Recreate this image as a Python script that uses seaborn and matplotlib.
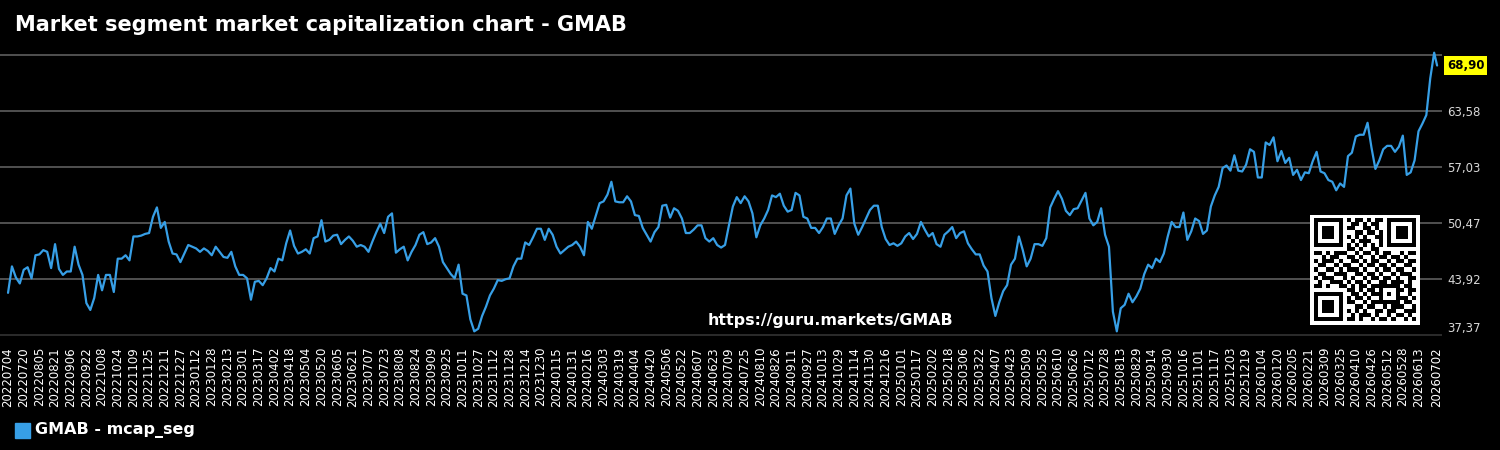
import matplotlib
matplotlib.use("Agg")
import matplotlib.pyplot as plt
import numpy as np
import pandas as pd
import seaborn as sns
from matplotlib.patches import Rectangle

# ---------------- data ----------------
title = "Market segment market capitalization chart - GMAB"
series_label = "GMAB - mcap_seg"
watermark = "https://guru.markets/GMAB"
start_date = "2022-07-04"
end_date = "2026-07-02"
sample_step_days = 4          # values read every 4 days, last value on end_date
tick_step_days = 16

mcap_values = [
    # 2022-07 .. 2022-12
    42.3, 45.4, 44.1, 43.4, 45.0, 45.3, 44.0, 46.7, 46.8, 47.3,
    47.1, 45.2, 48.0, 45.1, 44.4, 44.8, 44.8, 47.7, 45.6, 44.4,
    41.1, 40.3, 41.7, 44.4, 42.6, 44.4, 44.4, 42.4, 46.3, 46.3,
    46.7, 46.1, 48.9, 48.9, 49.0, 49.2, 49.3, 51.2, 52.3, 49.9,
    50.6, 48.3, 46.9, 46.8,
    # 2023
    45.9, 46.9, 47.9, 47.7, 47.5, 47.1, 47.5, 47.2, 46.7, 47.7,
    47.1, 46.5, 46.4, 47.1, 45.4, 44.4, 44.4, 44.0, 41.5, 43.6,
    43.7, 43.2, 44.0, 45.2, 44.8, 46.3, 46.1, 48.1, 49.6, 47.8,
    46.9, 47.1, 47.4, 46.9, 48.7, 48.9, 50.8, 48.3, 48.5, 49.0,
    49.1, 48.0, 48.5, 48.9, 48.4, 47.7,
    47.9, 47.7, 47.1, 48.3, 49.4, 50.4, 49.3, 51.2, 51.6, 47.0,
    47.4, 47.7, 46.1, 47.1, 47.9, 49.1, 49.4, 48.0, 48.2, 48.7,
    47.7, 45.9, 45.2, 44.5, 44.0, 45.6, 42.2, 42.0, 39.2, 37.8,
    38.1, 39.6, 40.7, 42.0, 42.8, 43.8, 43.7, 43.9, 44.0, 45.4,
    46.3, 46.3, 48.2, 47.9, 48.8, 49.8,
    # 2024
    49.8, 48.5, 49.8, 49.1, 47.7, 46.9, 47.3, 47.7, 47.9, 48.3,
    47.7, 46.7, 50.6, 49.8, 51.3, 52.8, 53.0, 53.8, 55.3, 53.0,
    52.9, 52.9, 53.6, 53.0, 51.4, 51.3, 49.9, 49.1, 48.3, 49.4,
    50.0, 52.5, 52.6, 51.1, 52.2, 51.9, 51.0, 49.3, 49.3, 49.7,
    50.2, 50.2, 48.7, 48.3, 48.7, 47.9,
    47.6, 47.9, 50.2, 52.4, 53.5, 52.8, 53.6, 53.0, 51.6, 48.8,
    50.2, 51.0, 52.0, 53.7, 53.5, 53.9, 52.5, 51.8, 52.0, 54.0,
    53.7, 51.2, 51.0, 49.9, 49.9, 49.3, 50.0, 51.0, 51.0, 49.2,
    50.2, 51.0, 53.7, 54.5, 50.4, 49.1, 50.0, 51.0, 52.0, 52.5,
    52.5, 50.0, 48.6, 47.9, 48.1, 47.8,
    # 2025
    48.1, 48.9, 49.3, 48.6, 49.2, 50.6, 49.7, 48.9, 49.3, 48.0,
    47.7, 49.1, 49.5, 50.0, 48.7, 49.3, 49.5, 48.1, 47.4, 46.8,
    46.8, 45.5, 44.8, 41.7, 39.6, 41.2, 42.5, 43.2, 45.6, 46.3,
    48.9, 47.3, 45.4, 46.3, 48.0, 48.0, 47.8, 48.7, 52.3, 53.3,
    54.2, 53.3, 51.9, 51.4, 52.1, 52.2,
    53.1, 54.0, 51.0, 50.2, 50.6, 52.2, 49.1, 47.7, 40.1, 37.8,
    40.5, 40.9, 42.2, 41.2, 41.9, 42.8, 44.5, 45.6, 45.2, 46.3,
    45.9, 46.9, 48.9, 50.6, 50.0, 50.0, 51.7, 48.5, 49.5, 51.0,
    50.7, 49.2, 49.6, 52.4, 53.7, 54.7, 56.9, 57.2, 56.6, 58.4,
    56.6, 56.5, 57.3, 59.1, 58.8, 55.8,
    # 2026
    55.8, 59.9, 59.6, 60.5, 57.7, 58.9, 57.5, 58.1, 56.1, 56.7,
    55.5, 56.4, 56.3, 57.7, 58.8, 56.5, 56.3, 55.5, 55.3, 54.3,
    55.1, 54.7, 58.3, 58.7, 60.6, 60.8, 60.8, 62.2, 59.3, 56.8,
    57.8, 59.1, 59.5, 59.5, 58.8, 59.4, 60.7, 56.1, 56.4, 57.8,
    61.2, 62.1, 63.1, 67.4, 70.4,
    68.90,
]
last_value_label = "68,90"
y_ticks = [37.37, 43.92, 50.47, 57.03, 63.58, 70.13]
y_tick_labels = ["37,37", "43,92", "50,47", "57,03", "63,58", ""]

qr_rows = [
    "1111111" + "0" + "101101011" + "0" + "1111111",
    "1000001" + "0" + "011010110" + "0" + "1000001",
    "1011101" + "0" + "110011010" + "0" + "1011101",
    "1011101" + "0" + "001101101" + "0" + "1011101",
    "1011101" + "0" + "101010011" + "0" + "1011101",
    "1000001" + "0" + "010111001" + "0" + "1000001",
    "1111111" + "0" + "101010101" + "0" + "1111111",
    "00000000" + "110100110" + "00000000",
    "1101011100101101011001011",
    "0010110011010010110110100",
    "1011101001101011001011011",
    "0110010110010110110100110",
    "1001101011101001011011001",
    "0110011100110110100101110",
    "1011100101001011011010011",
    "0100111010110100110111010",
    "1101001101011011" + "11111" + "0110",
    "00000000" + "11010110" + "10001" + "1011",
    "1111111" + "0" + "01101011" + "10101" + "0010",
    "1000001" + "0" + "10110100" + "10001" + "1101",
    "1011101" + "0" + "11001011" + "11111" + "0110",
    "1011101" + "0" + "00110110" + "01011" + "1001",
    "1011101" + "0" + "10101001" + "10110" + "0111",
    "1000001" + "0" + "01011101" + "00101" + "1010",
    "1111111" + "0" + "11010010" + "11010" + "0101",
]

# ---------------- style ----------------
line_color = "#379fe6"
sns.set_style("dark", rc={
    "axes.facecolor": "black",
    "figure.facecolor": "black",
    "savefig.facecolor": "black",
    "axes.edgecolor": "black",
    "grid.color": "#5a5a5a",
})
plt.rcParams["font.family"] = ["DejaVu Sans"]

start = pd.Timestamp(start_date)
end = pd.Timestamp(end_date)
dates = list(pd.date_range(start, periods=len(mcap_values) - 1,
                           freq=f"{sample_step_days}D")) + [end]
df = pd.DataFrame({"date": dates, "mcap": mcap_values})

fig = plt.figure(figsize=(15, 4.5), dpi=100)
W, H = 1500, 450
ax = fig.add_axes([0, 1 - 340 / H, 1442 / W, 295 / H])

sns.lineplot(data=df, x="date", y="mcap", ax=ax, color=line_color,
             linewidth=1.6, legend=False)

ax.set_xlim(start - pd.Timedelta(days=8.2), end + pd.Timedelta(days=5))
ax.set_ylim(36.785, 71.30)
ax.set_xlabel("")
ax.set_ylabel("")
for s in ax.spines.values():
    s.set_visible(False)

# y axis on the right
ax.yaxis.tick_right()
ax.set_yticks(y_ticks)
ax.set_yticklabels(y_tick_labels)
ax.tick_params(axis="y", length=0, pad=4, labelsize=8.5, labelcolor="#d8d8d8")
ax.grid(axis="y", color="#5e5e5e", linewidth=1.2)
ax.grid(axis="x", visible=False)
ax.yaxis.get_gridlines()[0].set_color("#333333")
ax.get_yticklabels()[0].set_verticalalignment("bottom")

# x ticks every 16 days + last day
tick_dates = [d for d in pd.date_range(start, end, freq=f"{tick_step_days}D")
              if (end - d).days >= tick_step_days] + [end]
ax.set_xticks(tick_dates)
ax.set_xticklabels([d.strftime("%Y%m%d") for d in tick_dates], rotation=90,
                   fontsize=8.5, color="white")
ax.tick_params(axis="x", length=0, pad=5)

# last value marker
ax.annotate(last_value_label, xy=(1.0, mcap_values[-1]),
            xycoords=("axes fraction", "data"), xytext=(3.5, 0),
            textcoords="offset points", ha="left", va="center",
            fontsize=8.5, fontweight="bold", color="black",
            bbox=dict(boxstyle="square,pad=0.25", fc="#ffff00", ec="none"),
            annotation_clip=False)

# title, watermark, legend
fig.text(15 / W, 1 - 25 / H, title, fontsize=15, fontweight="bold",
         color="white", ha="left", va="center")
fig.text(830 / W, 1 - 320 / H, watermark, fontsize=11.4, fontweight="bold",
         color="white", ha="center", va="center")
fig.add_artist(Rectangle((15 / W, 1 - 438 / H), 15 / W, 15 / H,
                         transform=fig.transFigure, color=line_color))
fig.text(35 / W, 1 - 430 / H, series_label, fontsize=11.5, fontweight="bold",
         color="white", ha="left", va="center")

# QR code
qr = np.array([[int(c) for c in r] for r in qr_rows])
qr = np.pad(qr, 1, constant_values=0)
qax = fig.add_axes([1310 / W, 1 - 325 / H, 110 / W, 110 / H])
qax.imshow(qr, cmap="gray_r", interpolation="nearest", vmin=0, vmax=1,
           aspect="auto")
qax.axis("off")

fig.savefig("out.png", dpi=100, facecolor="black")
